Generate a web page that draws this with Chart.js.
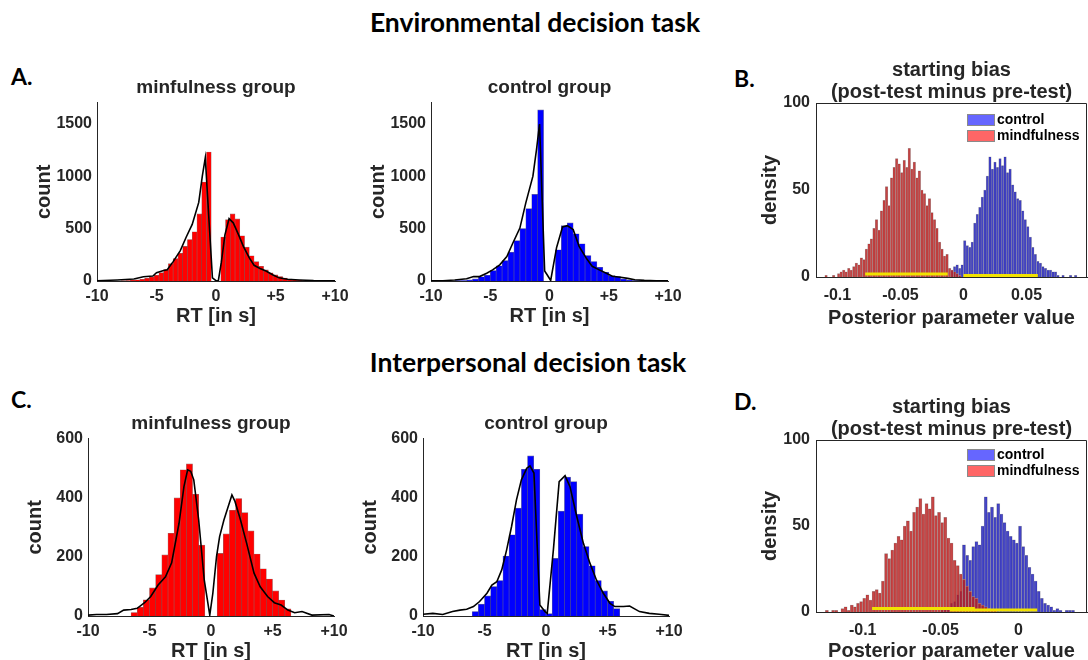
<!DOCTYPE html>
<html>
<head>
<meta charset="utf-8">
<title>Environmental / interpersonal decision task</title>
<script src="https://cdn.jsdelivr.net/npm/chart.js@4.4.1/dist/chart.umd.min.js"></script>
<style>
  html, body { margin: 0; padding: 0; background: #fff; }
  body { width: 1088px; height: 660px; position: relative; overflow: hidden; font-family: Lato, "Open Sans", sans-serif; }
  .heading { position: absolute; font-weight: bold; font-size: 26.5px; line-height: 1; color: #000; white-space: nowrap; transform: translate(-50%, -50%); }
  .letter { position: absolute; font-weight: bold; font-size: 23px; line-height: 1; color: #000; transform: translateY(-50%); }
  canvas { position: absolute; }
</style>
</head>
<body>
<div class="heading" style="left:535px; top:22px">Environmental decision task</div>
<div class="heading" style="left:528px; top:362px">Interpersonal decision task</div>
<div class="letter" style="left:11px; top:76px">A.</div>
<div class="letter" style="left:734px; top:78px">B.</div>
<div class="letter" style="left:11px; top:399px">C.</div>
<div class="letter" style="left:734px; top:401px">D.</div>

<canvas id="envMind" width="331" height="256" style="left:26px; top:76px"></canvas>
<canvas id="envCtrl" width="330" height="256" style="left:360px; top:76px"></canvas>
<canvas id="envBias" width="340" height="275" style="left:748px; top:59px"></canvas>
<canvas id="intMind" width="339" height="255" style="left:17px; top:412px"></canvas>
<canvas id="intCtrl" width="339" height="255" style="left:352px; top:412px"></canvas>
<canvas id="intBias" width="340" height="271" style="left:748px; top:396px"></canvas>

<script>
// ---- tick labels ----
const rtTicks = [-10, -5, 0, 5, 10];
const rtTickLabels = ['-10', '-5', '0', '+5', '+10'];
const envCountTicks = [0, 500, 1000, 1500];
const intCountTicks = [0, 200, 400, 600];
const densityTicks = [0, 50, 100];
const biasTicksB = [-0.1, -0.05, 0, 0.05];
const biasTickLabelsB = ['-0.1', '-0.05', '0', '0.05'];
const biasTicksD = [-0.1, -0.05, 0];
const biasTickLabelsD = ['-0.1', '-0.05', '0'];
const groupLabels = ['control', 'mindfulness'];

// ---- RT histograms: bin centres (s) ----
const rtBins04 = [-7.8, -7.4, -7.0, -6.6, -6.2, -5.8, -5.4, -5.0, -4.6, -4.2, -3.8, -3.4, -3.0, -2.6, -2.2, -1.8, -1.4, -1.0, -0.6, -0.2,
                  0.2, 0.6, 1.0, 1.4, 1.8, 2.2, 2.6, 3.0, 3.4, 3.8, 4.2, 4.6, 5.0, 5.4, 5.8, 6.2, 6.6, 7.0, 7.4, 7.8];
const rtBins05 = [-7.75, -7.25, -6.75, -6.25, -5.75, -5.25, -4.75, -4.25, -3.75, -3.25, -2.75, -2.25, -1.75, -1.25, -0.75, -0.25,
                  0.25, 0.75, 1.25, 1.75, 2.25, 2.75, 3.25, 3.75, 4.25, 4.75, 5.25, 5.75, 6.25, 6.75, 7.25, 7.75];

// A: environmental task
const envMindCounts = [2, 4, 7, 11, 17, 26, 38, 55, 80, 110, 165, 215, 265, 330, 395, 470, 640, 944, 1230, 0,
                       0, 420, 585, 640, 592, 432, 323, 240, 185, 140, 106, 78, 58, 42, 28, 18, 12, 8, 5, 3];
const envMindCurveX = [-10, -8.3, -6.9, -6.1, -5.3, -5.0, -4.4, -4.1, -3.6, -3.0, -2.5, -2.0, -1.45, -1.15, -0.9, -0.6, -0.3, 0, 0.2, 0.45,
                       0.75, 1.1, 1.45, 1.9, 2.3, 2.8, 3.2, 3.7, 4.2, 4.8, 5.3, 6.0, 7.0, 8.2, 9.6, 10];
const envMindCurveY = [3, 10, 19, 40, 48, 80, 100, 108, 185, 290, 420, 540, 750, 1000, 1176, 600, 30, 3, 5, 180,
                       440, 595, 555, 440, 330, 220, 150, 120, 95, 58, 30, 16, 10, 5, 3, 2];

const envCtrlCounts = [3, 5, 10, 20, 40, 55, 100, 145, 195, 275, 385, 500, 690, 826, 1632, 0,
                       0, 298, 528, 554, 450, 355, 243, 186, 131, 83, 51, 42, 20, 10, 5, 3];
const envCtrlCurveX = [-10, -9, -8, -7, -6.4, -5.9, -5.3, -4.8, -4.2, -3.6, -3.1, -2.5, -2.0, -1.4, -1.1, -0.84, -0.41, -0.2, 0.1, 0.6,
                       1.1, 1.5, 2.0, 2.5, 3.1, 3.6, 4.2, 4.8, 5.3, 6.0, 6.6, 7.2, 8.0, 9.0, 10];
const envCtrlCurveY = [1, 3, 10, 22, 42, 42, 74, 106, 154, 234, 360, 505, 745, 1000, 1250, 1498, 95, 60, 5, 320,
                       515, 528, 490, 330, 218, 140, 106, 74, 45, 35, 25, 12, 6, 3, 1];

// C: interpersonal task
const intMindCounts = [0, 0, 0, 12, 30, 55, 95, 140, 207, 280, 400, 495, 515, 412, 240, 0,
                       0, 212, 278, 358, 398, 350, 288, 210, 160, 125, 85, 54, 24, 0, 0, 0];
const intMindCurveX = [-10, -9.3, -8.5, -7.6, -7.1, -6.5, -6, -5.4, -4.9, -4.3, -3.7, -3.2, -2.6, -2.2, -1.9, -1.65, -1.4, -1.0, -0.55, -0.1,
                       0.15, 0.45, 0.7, 1.05, 1.4, 1.7, 1.95, 2.4, 2.9, 3.5, 4.0, 4.6, 5.15, 5.7, 6.25, 6.8, 7.4, 8.2, 9.6, 10];
const intMindCurveY = [3, 5, 5, 8, 20, 22, 26, 45, 66, 105, 133, 180, 314, 438, 495, 490, 461, 325, 122, 3,
                       77, 201, 269, 325, 371, 410, 388, 325, 246, 145, 99, 66, 45, 37, 20, 11, 15, 3, 5, 0];

const intCtrlCounts = [0, 0, 0, 0, 15, 40, 68, 100, 120, 203, 275, 365, 497, 542, 497, 22,
                       8, 195, 355, 470, 455, 345, 235, 170, 120, 85, 50, 25, 0, 0, 0, 0];
const intCtrlCurveX = [-10, -9.2, -8.4, -7.6, -7.0, -6.45, -5.9, -5.4, -4.8, -4.4, -4.0, -3.6, -3.2, -2.8, -2.4, -2.0, -1.57, -1.3, -0.98, -0.5,
                       -0.08, 0.1, 0.6, 1.07, 1.55, 1.95, 2.5, 3.04, 3.57, 4.1, 4.66, 5.2, 5.6, 6.3, 6.8, 7.6, 8.4, 9.2, 10];
const intCtrlCurveY = [6, 9, 5, 15, 20, 23, 32, 49, 77, 105, 116, 156, 224, 303, 393, 461, 500, 508, 484, 37,
                       15, 9, 224, 455, 475, 438, 337, 246, 179, 122, 77, 43, 32, 32, 34, 15, 9, 6, 2];

// ---- B: posterior starting bias, environmental ----
const envBiasMindX = [-0.109, -0.107, -0.105, -0.103, -0.101, -0.099, -0.097, -0.095, -0.093, -0.091, -0.089, -0.087, -0.085, -0.083, -0.081,
                      -0.079, -0.077, -0.075, -0.073, -0.071, -0.069, -0.067, -0.065, -0.063, -0.061, -0.059, -0.057, -0.055, -0.053, -0.051,
                      -0.049, -0.047, -0.045, -0.043, -0.041, -0.039, -0.037, -0.035, -0.033, -0.031, -0.029, -0.027, -0.025, -0.023, -0.021,
                      -0.019, -0.017, -0.015, -0.013, -0.011, -0.009, -0.007, -0.005, -0.003];
const envBiasMindY = [1, 0, 0, 1, 0, 2, 3, 4, 3, 5, 4, 6, 8, 7, 11,
                      10, 16, 19, 22, 28, 33, 27, 38, 44, 52, 41, 57, 63, 68, 65,
                      60, 67, 63, 74, 62, 66, 57, 61, 50, 48, 41, 45, 37, 33, 28,
                      20, 16, 12, 13, 5, 4, 3, 2, 1];
const envBiasCtrlX = [-0.009, -0.007, -0.005, -0.003, -0.001, 0.001, 0.003, 0.005, 0.007, 0.009, 0.011, 0.013, 0.015, 0.017, 0.019,
                      0.021, 0.023, 0.025, 0.027, 0.029, 0.031, 0.033, 0.035, 0.037, 0.039, 0.041, 0.043, 0.045, 0.047, 0.049,
                      0.051, 0.053, 0.055, 0.057, 0.059, 0.061, 0.063, 0.065, 0.067, 0.069, 0.071, 0.073, 0.075, 0.077, 0.079,
                      0.081, 0.083, 0.085, 0.087, 0.089];
const envBiasCtrlY = [4, 6, 7, 5, 7, 21, 18, 17, 20, 31, 36, 40, 46, 50, 58,
                      69, 62, 66, 63, 68, 64, 69, 60, 62, 53, 49, 45, 44, 38, 33,
                      29, 23, 17, 13, 9, 8, 6, 5, 4, 4, 3, 3, 1, 0, 1,
                      0, 0, 1, 0, 1];
const envHdiMind = [-0.078, -0.0125];
const envHdiCtrl = [0.0, 0.059];
const envHdiLevel = [1.7, 0.9];   // mindfulness, control

// ---- D: posterior starting bias, interpersonal ----
const intBiasMindX = [-0.123, -0.121, -0.119, -0.117, -0.115, -0.113, -0.111, -0.109, -0.107, -0.105, -0.103, -0.101, -0.099, -0.097, -0.095,
                      -0.093, -0.091, -0.089, -0.087, -0.085, -0.083, -0.081, -0.079, -0.077, -0.075, -0.073, -0.071, -0.069, -0.067, -0.065,
                      -0.063, -0.061, -0.059, -0.057, -0.055, -0.053, -0.051, -0.049, -0.047, -0.045, -0.043, -0.041, -0.039, -0.037, -0.035,
                      -0.033, -0.031, -0.029, -0.027, -0.025, -0.023, -0.021, -0.019, -0.017, -0.015];
const intBiasMindY = [1, 0, 1, 1, 0, 2, 3, 1, 4, 3, 5, 6, 8, 10, 7,
                      12, 13, 11, 18, 34, 31, 36, 40, 44, 42, 50, 53, 47, 58, 61,
                      66, 57, 63, 60, 67, 56, 58, 52, 55, 43, 40, 30, 27, 22, 19,
                      15, 12, 9, 8, 5, 4, 3, 2, 1, 1];
const intBiasCtrlX = [-0.049, -0.047, -0.045, -0.043, -0.041, -0.039, -0.037, -0.035, -0.033, -0.031, -0.029, -0.027, -0.025, -0.023, -0.021,
                      -0.019, -0.017, -0.015, -0.013, -0.011, -0.009, -0.007, -0.005, -0.003, -0.001, 0.001, 0.003, 0.005, 0.007, 0.009,
                      0.011, 0.013, 0.015, 0.017, 0.019, 0.021, 0.023, 0.025, 0.027, 0.029, 0.031, 0.033, 0.035];
const intBiasCtrlY = [1, 2, 3, 5, 6, 10, 12, 39, 33, 30, 38, 41, 39, 50, 67,
                      58, 61, 55, 63, 57, 52, 47, 44, 42, 40, 50, 38, 33, 26, 22,
                      18, 12, 8, 5, 4, 3, 1, 2, 1, 0, 1, 1, 1];
const intHdiMind = [-0.094, -0.028];
const intHdiCtrl = [-0.044, 0.012];
const intHdiLevel = [2.0, 1.2];

// ---- Stil ----
const axisColor = '#262626';
Chart.defaults.font.family = '"Liberation Sans", Arial, sans-serif';
Chart.defaults.font.weight = 'bold';
Chart.defaults.color = axisColor;

const toPoints = (xs, ys) => xs.map((x, i) => ({ x: x, y: ys[i] }));
const fixedTicks = (values) => (scale) => { scale.ticks = values.map(v => ({ value: v })); };

// Rahmen oben/rechts (B, D)
const boxFrame = {
    id: 'boxFrame',
    afterDraw(chart) {
        const { ctx, chartArea: a } = chart;
        ctx.save();
        ctx.strokeStyle = axisColor;
        ctx.lineWidth = 1;
        ctx.beginPath();
        ctx.moveTo(a.left, a.top + 0.5);
        ctx.lineTo(a.right - 0.5, a.top + 0.5);
        ctx.lineTo(a.right - 0.5, a.bottom);
        ctx.stroke();
        ctx.restore();
    }
};

// Legende innerhalb der Achsen, oben rechts
const insideLegend = {
    id: 'insideLegend',
    afterDraw(chart, args, opts) {
        const { ctx, chartArea: a } = chart;
        ctx.save();
        ctx.font = 'bold 14px "Liberation Sans", Arial, sans-serif';
        ctx.textBaseline = 'middle';
        opts.items.forEach((item, i) => {
            const x = a.right - opts.right;
            const y = a.top + opts.top + i * opts.gap;
            ctx.fillStyle = item.color;
            ctx.fillRect(x, y - 6, 28, 12);
            ctx.strokeStyle = '#8a8a8a';
            ctx.lineWidth = 1;
            ctx.strokeRect(x + 0.5, y - 5.5, 27, 11);
            ctx.fillStyle = '#000';
            ctx.fillText(item.label, x + 30, y);
        });
        ctx.restore();
    }
};

function rtChart(id, title, bins, counts, curveX, curveY, fill, edge, yMax, yTicks) {
    new Chart(document.getElementById(id), {
        type: 'bar',
        data: {
            datasets: [
                { type: 'line', data: toPoints(curveX, curveY), borderColor: '#000', borderWidth: 1.6,
                  pointRadius: 0, tension: 0, order: 0 },
                { data: toPoints(bins, counts), backgroundColor: fill, borderColor: edge, borderWidth: 0.6,
                  grouped: false, categoryPercentage: 1, barPercentage: 1, order: 1 }
            ]
        },
        options: {
            responsive: false, animation: false, events: [],
            layout: { padding: { top: 0, right: 22, bottom: 0, left: 0 } },
            plugins: {
                legend: { display: false }, tooltip: { enabled: false },
                title: { display: true, text: title, fullSize: false, color: axisColor,
                         font: { size: 19, weight: 'bold' }, padding: { top: 0, bottom: 4 } }
            },
            scales: {
                x: {
                    type: 'linear', min: -10, max: 10, offset: false,
                    afterBuildTicks: fixedTicks(rtTicks),
                    afterFit: (s) => { s.height = 51; },
                    ticks: { callback: (v, i) => rtTickLabels[i], padding: 6, maxRotation: 0, autoSkip: false,
                             font: { size: 16, weight: 'bold' } },
                    grid: { display: false, drawTicks: false },
                    border: { display: true, color: axisColor, width: 1 },
                    title: { display: true, text: 'RT [in s]', font: { size: 20, weight: 'bold' }, padding: { top: 0, bottom: 4 } }
                },
                y: {
                    min: 0, max: yMax,
                    afterBuildTicks: fixedTicks(yTicks),
                    afterFit: (s) => { s.width = 71; },
                    ticks: { callback: (v) => String(v), padding: 5, font: { size: 16, weight: 'bold' } },
                    grid: { display: false, drawTicks: false },
                    border: { display: true, color: axisColor, width: 1 },
                    title: { display: true, text: 'count', font: { size: 20, weight: 'bold' }, padding: { top: 6, bottom: 0 } }
                }
            }
        }
    });
}

function biasChart(id, xMin, xMax, xTicks, xTickLabels, mindX, mindY, ctrlX, ctrlY, hdiMind, hdiCtrl, hdiLevel, xAxisH, legendTop) {
    const hdiStyle = { type: 'line', borderColor: '#f2e200', borderWidth: 3, pointRadius: 0, order: 0 };
    new Chart(document.getElementById(id), {
        type: 'bar',
        data: {
            datasets: [
                Object.assign({ data: toPoints(hdiMind, [hdiLevel[0], hdiLevel[0]]) }, hdiStyle),
                Object.assign({ data: toPoints(hdiCtrl, [hdiLevel[1], hdiLevel[1]]) }, hdiStyle),
                { label: groupLabels[1], data: toPoints(mindX, mindY), backgroundColor: 'rgba(185,25,25,0.8)',
                  borderColor: 'rgba(165,165,165,0.9)', borderWidth: 0.5,
                  grouped: false, categoryPercentage: 1, barPercentage: 1, order: 1 },
                { label: groupLabels[0], data: toPoints(ctrlX, ctrlY), backgroundColor: 'rgba(25,25,185,0.8)',
                  borderColor: 'rgba(165,165,165,0.9)', borderWidth: 0.5,
                  grouped: false, categoryPercentage: 1, barPercentage: 1, order: 2 }
            ]
        },
        plugins: [boxFrame, insideLegend],
        options: {
            responsive: false, animation: false, events: [],
            layout: { padding: { top: 0, right: 1, bottom: 0, left: 0 } },
            plugins: {
                legend: { display: false }, tooltip: { enabled: false },
                title: { display: true, text: ['starting bias', '(post-test minus pre-test)'], fullSize: false, color: axisColor,
                         font: { size: 20, weight: 'bold', lineHeight: 1.1 }, padding: { top: 0, bottom: 0 } },
                insideLegend: {
                    top: legendTop, gap: 16, right: 120,
                    items: [
                        { label: groupLabels[0], color: 'rgb(102,102,255)' },
                        { label: groupLabels[1], color: 'rgb(255,102,102)' }
                    ]
                }
            },
            scales: {
                x: {
                    type: 'linear', min: xMin, max: xMax, offset: false,
                    afterBuildTicks: fixedTicks(xTicks),
                    afterFit: (s) => { s.height = xAxisH; },
                    ticks: { callback: (v, i) => xTickLabels[i], padding: 9, maxRotation: 0, autoSkip: false,
                             font: { size: 16, weight: 'bold' } },
                    grid: { display: false, drawTicks: false },
                    border: { display: true, color: axisColor, width: 1 },
                    title: { display: true, text: 'Posterior parameter value', font: { size: 20, weight: 'bold' },
                             padding: { top: 0, bottom: 4 } }
                },
                y: {
                    min: 0, max: 100,
                    afterBuildTicks: fixedTicks(densityTicks),
                    afterFit: (s) => { s.width = 68; },
                    ticks: { callback: (v) => String(v), padding: 6, font: { size: 16, weight: 'bold' } },
                    grid: { display: false, drawTicks: false },
                    border: { display: true, color: axisColor, width: 1 },
                    title: { display: true, text: 'density', font: { size: 20, weight: 'bold' }, padding: { top: 10, bottom: 0 } }
                }
            }
        }
    });
}

rtChart('envMind', 'minfulness group', rtBins04, envMindCounts, envMindCurveX, envMindCurveY, '#ff0000', 'rgba(90,0,0,0.6)', 1700, envCountTicks);
rtChart('envCtrl', 'control group', rtBins05, envCtrlCounts, envCtrlCurveX, envCtrlCurveY, '#0000ff', 'rgba(0,0,90,0.6)', 1700, envCountTicks);
rtChart('intMind', 'minfulness group', rtBins05, intMindCounts, intMindCurveX, intMindCurveY, '#ff0000', 'rgba(90,0,0,0.6)', 600, intCountTicks);
rtChart('intCtrl', 'control group', rtBins05, intCtrlCounts, intCtrlCurveX, intCtrlCurveY, '#0000ff', 'rgba(0,0,90,0.6)', 600, intCountTicks);

biasChart('envBias', -0.117, 0.098, biasTicksB, biasTickLabelsB, envBiasMindX, envBiasMindY, envBiasCtrlX, envBiasCtrlY,
          envHdiMind, envHdiCtrl, envHdiLevel, 57, 17);
biasChart('intBias', -0.13, 0.044, biasTicksD, biasTickLabelsD, intBiasMindX, intBiasMindY, intBiasCtrlX, intBiasCtrlY,
          intHdiMind, intHdiCtrl, intHdiLevel, 55, 15);
</script>
</body>
</html>
